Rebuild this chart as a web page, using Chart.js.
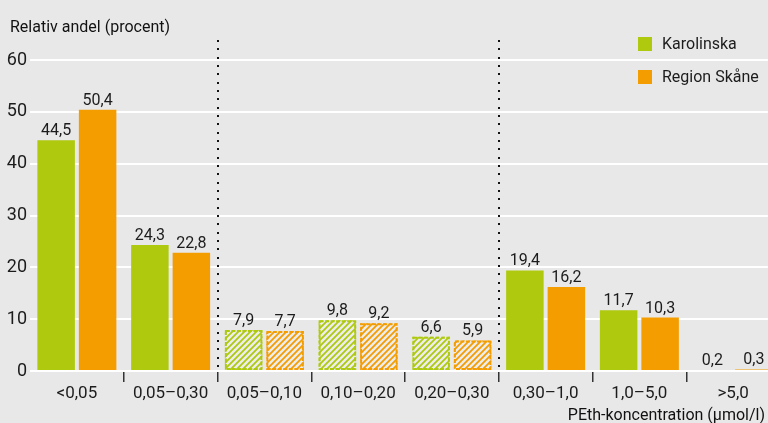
<!DOCTYPE html>
<html>
<head>
<meta charset="utf-8">
<script src="https://cdn.jsdelivr.net/npm/chart.js@4.4.1/dist/chart.umd.min.js"></script>
<style>
  html, body { margin: 0; padding: 0; overflow: hidden; background: #e8e8e8; width: 768px; height: 423px; }
  #wrap { position: relative; width: 780px; height: 423px; }
  canvas { display: block; }
</style>
</head>
<body>
<div id="wrap"><canvas id="c" width="780" height="423"></canvas></div>
<script>
const categories = ['<0,05', '0,05–0,30', '0,05–0,10', '0,10–0,20', '0,20–0,30', '0,30–1,0', '1,0–5,0', '>5,0'];
const karolinska = [44.5, 24.3, 7.9, 9.8, 6.6, 19.4, 11.7, 0.2];
const regionSkane = [50.4, 22.8, 7.7, 9.2, 5.9, 16.2, 10.3, 0.3];
const hatchedCategories = [2, 3, 4];
const separatorsAfter = [1, 4];
const yTicks = [0, 10, 20, 30, 40, 50, 60];
const seriesNames = ['Karolinska', 'Region Skåne'];
const yTitle = 'Relativ andel (procent)';
const xTitle = 'PEth-koncentration (µmol/l)';

const GREEN = '#afc90f';
const ORANGE = '#f49d00';
const TEXT = '#1c1c1c';
const FONT = "'Roboto', sans-serif";

function makeHatch(color) {
  const s = 6;
  const p = document.createElement('canvas');
  p.width = s; p.height = s;
  const g = p.getContext('2d');
  g.fillStyle = '#ededed';
  g.fillRect(0, 0, s, s);
  g.strokeStyle = color;
  g.lineWidth = 1.8;
  g.beginPath();
  g.moveTo(-1, s + 1); g.lineTo(s + 1, -1);
  g.moveTo(-1, 1); g.lineTo(1, -1);
  g.moveTo(s - 1, s + 1); g.lineTo(s + 1, s - 1);
  g.stroke();
  return g.createPattern(p, 'repeat');
}
const hatchG = makeHatch(GREEN);
const hatchO = makeHatch(ORANGE);

const fmt = v => String(v).replace('.', ',');

const overlay = {
  id: 'overlay',
  afterDatasetsDraw(chart) {
    const ctx = chart.ctx;
    const xs = chart.scales.x;
    const area = chart.chartArea;
    ctx.save();
    // dashed borders for hatched bars
    chart.data.datasets.forEach((ds, di) => {
      const meta = chart.getDatasetMeta(di);
      meta.data.forEach((el, i) => {
        if (hatchedCategories.includes(i)) {
          const p = el.getProps(['x', 'y', 'base', 'width'], true);
          ctx.strokeStyle = ds.solidColor;
          ctx.lineWidth = 2;
          ctx.setLineDash([4, 1.5]);
          ctx.strokeRect(p.x - p.width / 2 + 1, p.y + 1, p.width - 2, p.base - p.y - 2);
          ctx.setLineDash([]);
        }
      });
    });
    // value labels
    ctx.fillStyle = TEXT;
    ctx.font = '16px ' + FONT;
    ctx.textAlign = 'center';
    ctx.textBaseline = 'alphabetic';
    chart.data.datasets.forEach((ds, di) => {
      const meta = chart.getDatasetMeta(di);
      meta.data.forEach((el, i) => {
        ctx.fillText(fmt(ds.data[i]), el.x, el.y - 5);
      });
    });
    // dotted separators
    ctx.fillStyle = '#111';
    separatorsAfter.forEach(i => {
      const x = Math.round((xs.getPixelForValue(i) + xs.getPixelForValue(i + 1)) / 2);
      for (let y = 41; y < area.bottom - 1; y += 8.33) {
        ctx.fillRect(x - 1, Math.round(y) - 1, 2, 2);
      }
    });
    // title
    ctx.textAlign = 'left';
    ctx.font = '16px ' + FONT;
    ctx.fillText(yTitle, 10, 31.5);
    // x title
    ctx.textAlign = 'right';
    ctx.fillText(xTitle, 765, 420);
    // legend
    const cols = [GREEN, ORANGE];
    ctx.font = '16px ' + FONT;
    ctx.textAlign = 'left';
    ctx.textBaseline = 'middle';
    seriesNames.forEach((n, k) => {
      const cy = 44 + k * 33;
      ctx.fillStyle = cols[k];
      ctx.fillRect(638, cy - 7, 14, 14);
      ctx.fillStyle = TEXT;
      ctx.fillText(n, 662, cy + 1);
    });
    ctx.restore();
  }
};

new Chart(document.getElementById('c'), {
  type: 'bar',
  data: {
    labels: categories,
    datasets: [
      {
        label: seriesNames[0],
        data: karolinska,
        solidColor: GREEN,
        backgroundColor: c => hatchedCategories.includes(c.dataIndex) ? hatchG : GREEN,
        borderWidth: 0,
        categoryPercentage: 0.885,
        barPercentage: 0.904
      },
      {
        label: seriesNames[1],
        data: regionSkane,
        solidColor: ORANGE,
        backgroundColor: c => hatchedCategories.includes(c.dataIndex) ? hatchO : ORANGE,
        borderWidth: 0,
        categoryPercentage: 0.885,
        barPercentage: 0.904
      }
    ]
  },
  options: {
    responsive: false,
    animation: false,
    devicePixelRatio: 1,
    layout: { padding: { top: 60, left: 0, right: 0, bottom: 0 } },
    plugins: { legend: { display: false }, tooltip: { enabled: false }, title: { display: false } },
    scales: {
      x: {
        afterFit: s => { s.height = 52; },
        border: { display: false },
        grid: {
          offset: true,
          drawOnChartArea: false,
          drawTicks: true,
          tickLength: 11,
          lineWidth: 1.5,
          color: c => (c.index === 0 ? 'rgba(0,0,0,0)' : '#333')
        },
        ticks: { color: TEXT, font: { family: FONT, size: 17 }, padding: 2, maxRotation: 0, autoSkip: false }
      },
      y: {
        min: 0,
        max: 60,
        afterFit: s => { s.width = 30; },
        afterBuildTicks: s => { s.ticks = yTicks.map(v => ({ value: v })); },
        border: { display: false },
        grid: { color: '#ffffff', lineWidth: 2, drawTicks: false },
        ticks: { color: TEXT, font: { family: FONT, size: 18 }, padding: 3 }
      }
    }
  },
  plugins: [overlay]
});
</script>
</body>
</html>
